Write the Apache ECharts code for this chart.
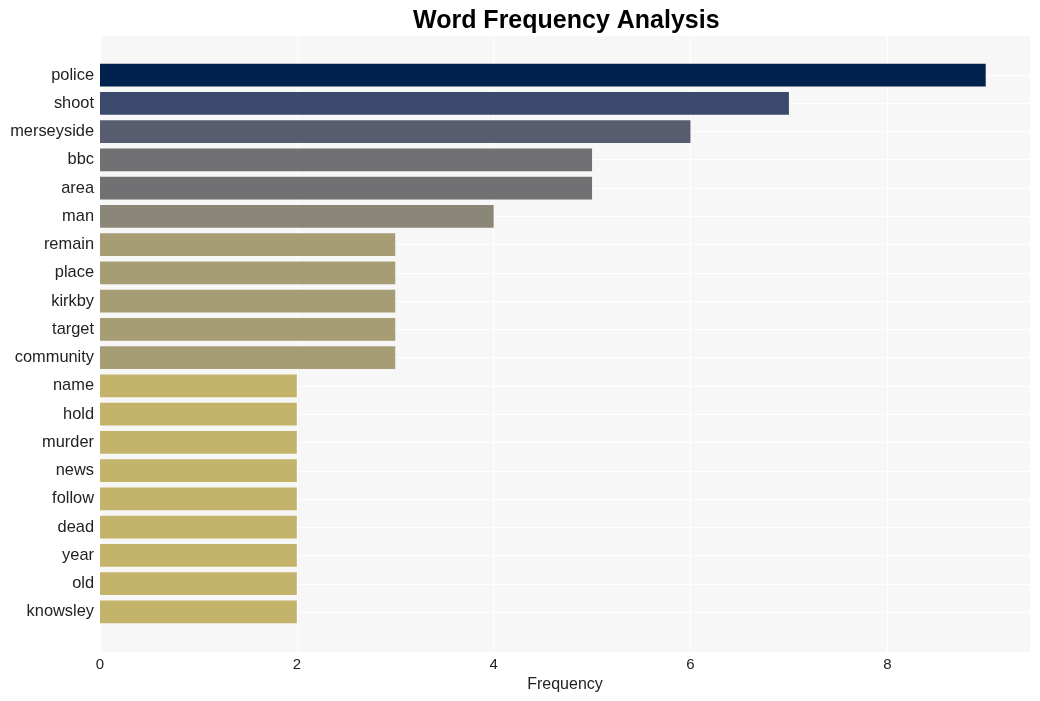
<!DOCTYPE html>
<html><head><meta charset="utf-8">
<script src="https://cdn.jsdelivr.net/npm/echarts@6/dist/echarts.min.js"></script>
<style>html,body{margin:0;padding:0;background:#fff}#c{width:1040px;height:701px}</style>
</head><body><div id="c"></div>
<script>
const words = ["police","shoot","merseyside","bbc","area","man","remain","place","kirkby","target","community","name","hold","murder","news","follow","dead","year","old","knowsley"];
const counts = [9,7,6,5,5,4,3,3,3,3,3,2,2,2,2,2,2,2,2,2];
const colorByCount = {9:"#00204e",7:"#3b496c",6:"#575c6e",5:"#717173",4:"#8a8678",3:"#a69d75",2:"#c4b36a"};
const xTicks = [0,2,4,6,8];
const xMax = 9.45;
const font = "'Liberation Sans', Arial, sans-serif";

const chart = echarts.init(document.getElementById('c'));
chart.setOption({
  animation:false,
  title:{text:"Word Frequency Analysis",left:408,top:4,
    textStyle:{fontFamily:font,fontSize:25,fontWeight:'bold',color:'#000'}},
  grid:[
    {left:100,right:10,top:36,bottom:49,show:true,backgroundColor:'#f7f7f7',borderWidth:0},
    {left:100,right:10,top:61,bottom:75},
    {left:100,right:10,top:74.8,bottom:88.8}
  ],
  xAxis:[
    {gridIndex:0,type:'value',min:0,max:xMax,interval:2,
      axisLine:{show:false},axisTick:{show:false},
      axisLabel:{fontFamily:font,fontSize:15,color:'#222',margin:5,
        formatter:v=>xTicks.includes(v)?String(v):''},
      splitLine:{show:true,lineStyle:{color:'#ffffff',width:1}},
      name:'Frequency',nameLocation:'middle',nameGap:25,
      nameTextStyle:{fontFamily:font,fontSize:16,color:'#222'}},
    {gridIndex:1,type:'value',min:0,max:xMax,show:false},
    {gridIndex:2,type:'value',min:0,max:xMax,show:false}
  ],
  yAxis:[
    {gridIndex:0,type:'value',show:false},
    {gridIndex:1,type:'category',data:words,inverse:true,
      axisLine:{show:false},axisTick:{show:false},splitLine:{show:false},
      axisLabel:{fontFamily:font,fontSize:16.4,color:'#222',margin:6,interval:0}},
    {gridIndex:2,type:'category',data:words,inverse:true,boundaryGap:false,
      axisLine:{show:false},axisTick:{show:false},axisLabel:{show:false},
      splitLine:{show:true,interval:0,lineStyle:{color:'#ffffff',width:1}}}
  ],
  series:[{
    type:'bar',xAxisIndex:1,yAxisIndex:1,barWidth:'80%',
    data:counts.map(v=>({value:v,itemStyle:{color:colorByCount[v]}}))
  }]
});
</script></body></html>
